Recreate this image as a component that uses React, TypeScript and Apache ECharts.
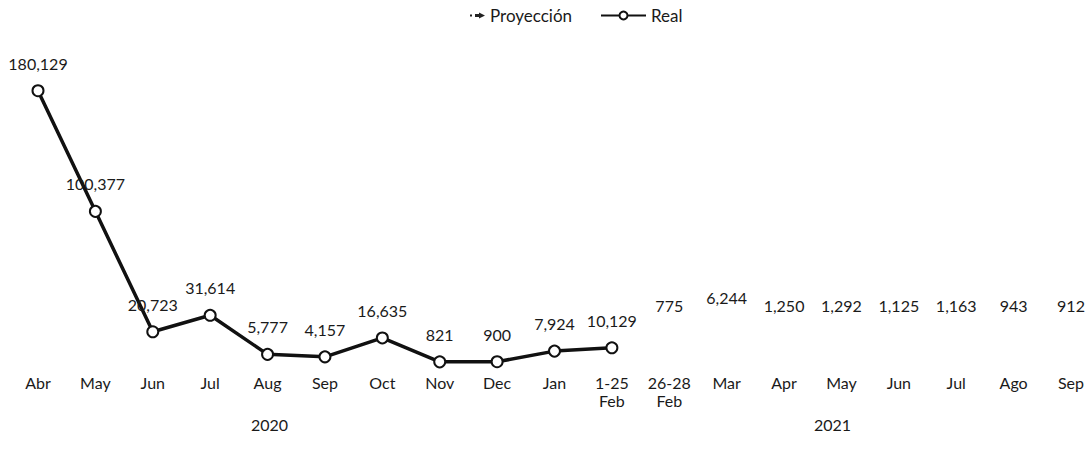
import React, { useEffect, useRef } from "react";
import * as echarts from "echarts";

const categories = ["Abr", "May", "Jun", "Jul", "Aug", "Sep", "Oct", "Nov", "Dec", "Jan", "1-25\nFeb", "26-28\nFeb", "Mar", "Apr", "May", "Jun", "Jul", "Ago", "Sep"];
const realValues: (number | null)[] = [180129, 100377, 20723, 31614, 5777, 4157, 16635, 821, 900, 7924, 10129, null, null, null, null, null, null, null, null];
const projectionValues: (number | null)[] = [null, null, null, null, null, null, null, null, null, null, 10129, 775, 6244, 1250, 1292, 1125, 1163, 943, 912];
const yearLabels = ["2020", "2021"];

const FONT = "Lato";
const TXT = "#1a1a1a";
const fmt = (v: number) => v.toLocaleString("en-US");

export default function App() {
  const ref = useRef<HTMLDivElement>(null);
  useEffect(() => {
    if (!ref.current) return;
    const chart = echarts.init(ref.current, null, { renderer: "svg" });
    chart.setOption({
      animation: false,
      textStyle: { fontFamily: FONT, color: TXT },
      legend: [
        {
          data: [{ name: "Proyección", icon: "path://M0,4H2V6H0Z M5,3.5H9V2L15,5L9,8V6.5H5Z" }],
          left: 465,
          top: 2,
          itemWidth: 15,
          itemHeight: 7,
          textStyle: { fontFamily: FONT, fontSize: 17, color: TXT },
          itemStyle: { color: "#222" },
        },
        {
          data: ["Real"],
          left: 595,
          top: 2,
          itemWidth: 45,
          itemHeight: 10,
          textStyle: { fontFamily: FONT, fontSize: 17, color: TXT },
        },
      ],
      grid: { left: 38, right: 18, top: 60.7, bottom: 98.9 },
      xAxis: {
        type: "category",
        data: categories,
        boundaryGap: false,
        axisLine: { show: false },
        axisTick: { show: false },
        axisLabel: { color: TXT, fontFamily: FONT, fontSize: 16, margin: 10, lineHeight: 18, interval: 0 },
      },
      yAxis: { type: "value", min: 0, max: 200000, show: false, splitLine: { show: false } },
      series: [
        {
          name: "Proyección",
          type: "line",
          data: projectionValues,
          symbol: "circle",
          symbolSize: 2,
          itemStyle: { color: "rgba(0,0,0,0)" },
          lineStyle: { color: "rgba(0,0,0,0)", width: 1, type: "dashed" },
          label: {
            show: true,
            position: "top",
            distance: 47,
            color: TXT,
            fontFamily: FONT,
            fontSize: 16,
            formatter: (p: any) => (p.dataIndex === 10 ? "" : fmt(p.value)),
          },
          z: 1,
        },
        {
          name: "Real",
          type: "line",
          data: realValues,
          symbol: "emptyCircle",
          symbolSize: 11,
          itemStyle: { color: "#111", borderWidth: 1.5, borderColor: "#111" },
          lineStyle: { color: "#111", width: 3.5 },
          label: {
            show: true,
            position: "top",
            distance: 13,
            color: TXT,
            fontFamily: FONT,
            fontSize: 16,
            formatter: (p: any) => fmt(p.value),
          },
          z: 2,
        },
      ],
      graphic: [
        { type: "text", left: 270 - 19, top: 416, style: { text: yearLabels[0], font: `16px ${FONT}`, fill: TXT } },
        { type: "text", left: 833 - 19, top: 416, style: { text: yearLabels[1], font: `16px ${FONT}`, fill: TXT } },
      ],
    });
    return () => chart.dispose();
  }, []);
  return <div ref={ref} style={{ position: "absolute", left: 0, top: 0, width: 1089, height: 462, background: "#fff" }} />;
}
